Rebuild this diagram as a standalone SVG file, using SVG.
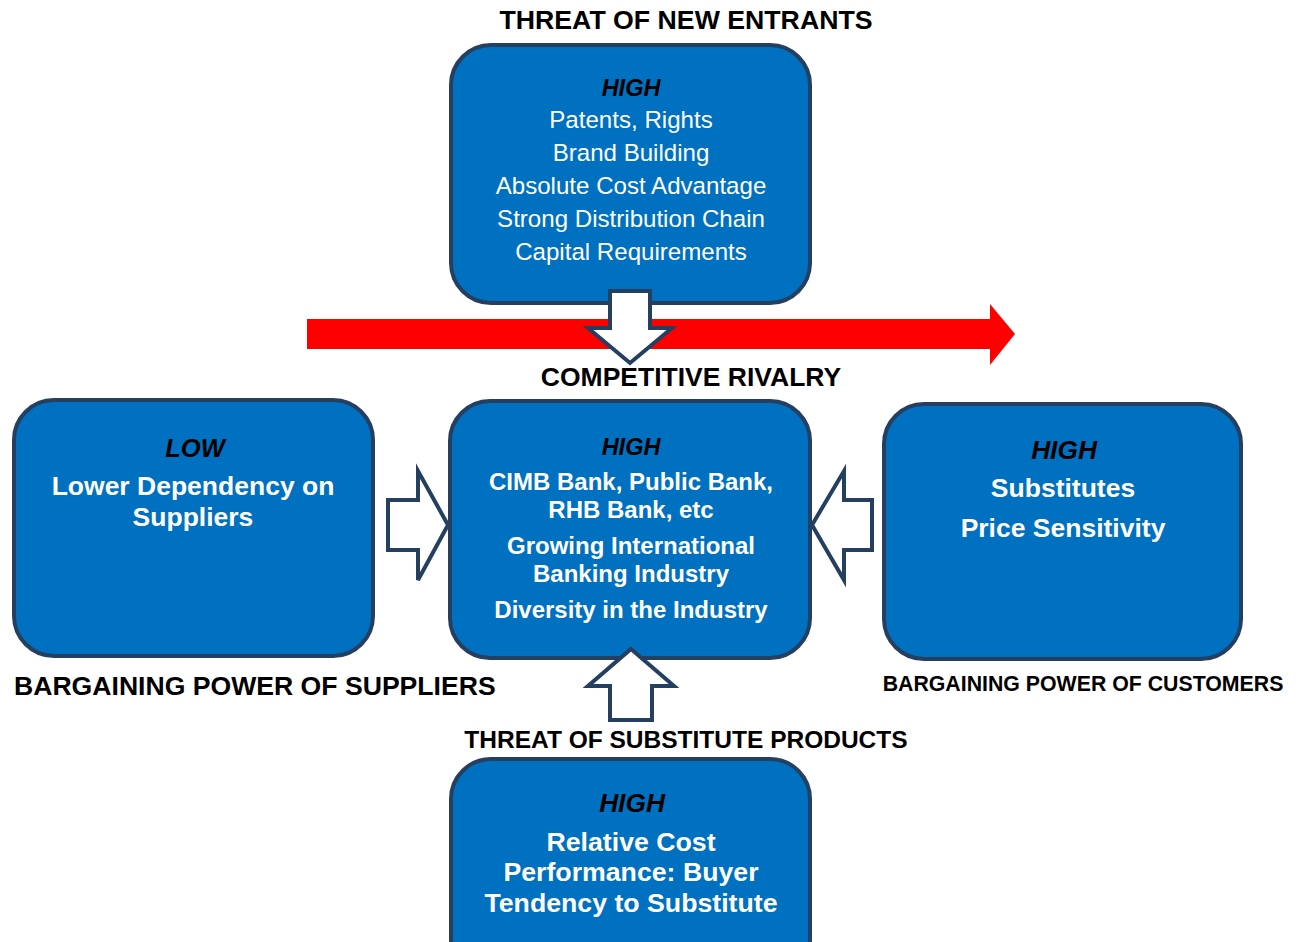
<svg xmlns="http://www.w3.org/2000/svg" width="1300" height="942" viewBox="0 0 1300 942">
  <style>
    text { font-family: "Liberation Sans", Arial, sans-serif; text-anchor: middle; }
    .box { fill: #0070C0; stroke: #243F60; stroke-width: 4; }
    .block { fill: #FFFFFF; stroke: #243F60; stroke-width: 4; stroke-linejoin: miter; }
    .title { font-weight: bold; fill: #000000; }
    .level { font-weight: bold; font-style: italic; fill: #000000; }
    .item { fill: #FFFFFF; }
    .itemb { fill: #FFFFFF; font-weight: bold; }
  </style>

  <!-- red rivalry arrow across the middle -->
  <polygon id="rivalry-arrow" points="307,319 990,319 990,304 1015,334 990,365 990,349 307,349" fill="#FF0000"/>

  <!-- forces -->
  <g id="new-entrants">
    <text class="title" x="686" y="29" font-size="26.7">THREAT OF NEW ENTRANTS</text>
    <rect class="box" x="451" y="45" width="359" height="258" rx="40" ry="40"/>
    <text class="level" x="631" y="96" font-size="23.5">HIGH</text>
    <text class="item" x="631" y="128" font-size="24.1">Patents, Rights</text>
    <text class="item" x="631" y="161" font-size="24.1">Brand Building</text>
    <text class="item" x="631" y="194" font-size="24.1">Absolute Cost Advantage</text>
    <text class="item" x="631" y="227" font-size="24.1">Strong Distribution Chain</text>
    <text class="item" x="631" y="260" font-size="24.1">Capital Requirements</text>
  </g>

  <g id="suppliers">
    <rect class="box" x="14" y="400" width="359" height="256" rx="40" ry="40"/>
    <text class="level" x="195" y="457" font-size="25.5">LOW</text>
    <text class="itemb" x="193" y="495" font-size="26.5">Lower Dependency on</text>
    <text class="itemb" x="193" y="526" font-size="26.5">Suppliers</text>
    <text class="title" x="14" y="695" font-size="26.6" style="text-anchor:start">BARGAINING POWER OF SUPPLIERS</text>
  </g>

  <g id="rivalry">
    <text class="title" x="691" y="386" font-size="26.5">COMPETITIVE RIVALRY</text>
    <rect class="box" x="450" y="401" width="360" height="257" rx="40" ry="40"/>
    <text class="level" x="631" y="455" font-size="23.5">HIGH</text>
    <text class="itemb" x="631" y="490" font-size="24">CIMB Bank, Public Bank,</text>
    <text class="itemb" x="631" y="518" font-size="24">RHB Bank, etc</text>
    <text class="itemb" x="631" y="554" font-size="24">Growing International</text>
    <text class="itemb" x="631" y="582" font-size="24">Banking Industry</text>
    <text class="itemb" x="631" y="618" font-size="24">Diversity in the Industry</text>
  </g>

  <g id="customers">
    <rect class="box" x="884" y="404" width="357" height="255" rx="40" ry="40"/>
    <text class="level" x="1064" y="459" font-size="26.3">HIGH</text>
    <text class="itemb" x="1063" y="497" font-size="26.5">Substitutes</text>
    <text class="itemb" x="1063" y="537" font-size="26.5">Price Sensitivity</text>
    <text class="title" x="1083" y="691" font-size="21.3">BARGAINING POWER OF CUSTOMERS</text>
  </g>

  <g id="substitutes">
    <text class="title" x="686" y="748" font-size="24.5">THREAT OF SUBSTITUTE PRODUCTS</text>
    <rect class="box" x="451" y="759" width="359" height="220" rx="40" ry="40"/>
    <text class="level" x="632" y="812" font-size="26.3">HIGH</text>
    <text class="itemb" x="631" y="851" font-size="26.7">Relative Cost</text>
    <text class="itemb" x="631" y="881" font-size="26.7">Performance: Buyer</text>
    <text class="itemb" x="631" y="912" font-size="26.7">Tendency to Substitute</text>
  </g>

  <!-- block arrows pointing into the rivalry box -->
  <g id="connectors">
    <polygon class="block" points="610,291 650,291 650,328 672,328 630,363 588,328 610,328"/>
    <polygon class="block" points="388,500 418,500 418,471 448,525 418,580 418,550 388,550"/>
    <polygon class="block" points="812,525 844,471 844,500 872,500 872,550 844,550 844,580"/>
    <polygon class="block" points="631,649 674,686 652,686 652,720 610,720 610,686 588,686"/>
  </g>
</svg>
